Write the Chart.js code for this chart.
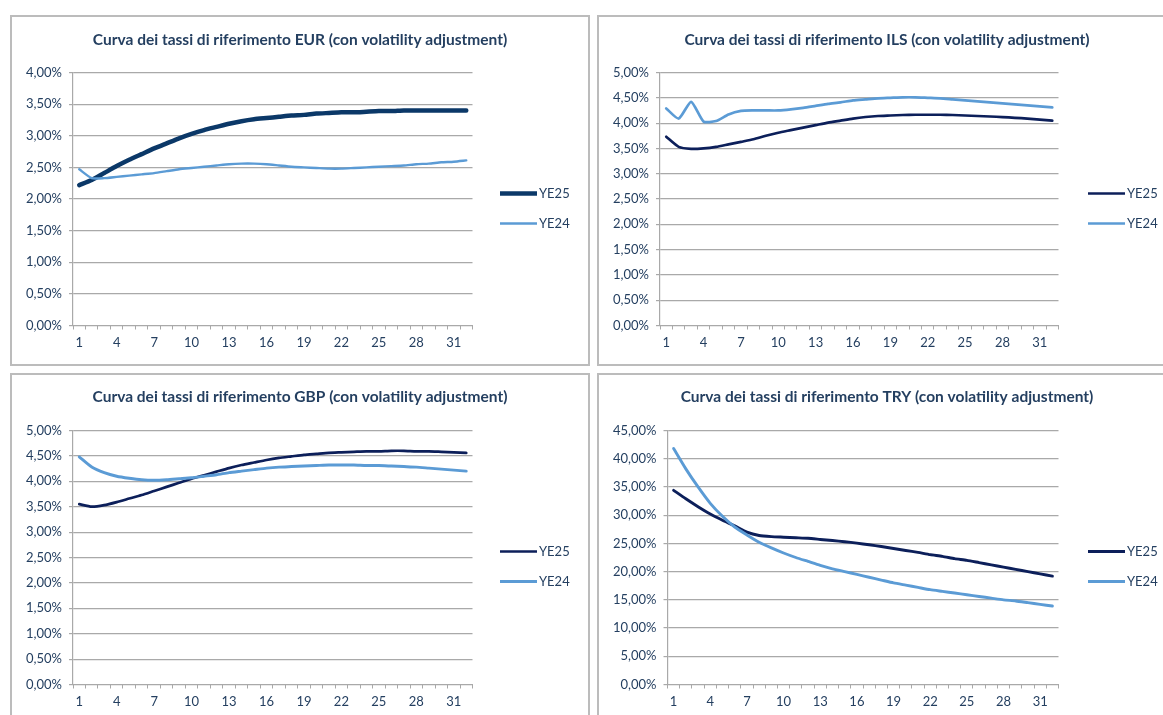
<!DOCTYPE html>
<html>
<head>
<meta charset="utf-8">
<script src="https://cdn.jsdelivr.net/npm/chart.js@4.4.1/dist/chart.umd.min.js"></script>
<style>
  html, body { margin: 0; padding: 0; background: #ffffff; width: 1163px; height: 715px; overflow: hidden; }
  .panel { position: absolute; box-sizing: border-box; border: 2px solid #bcbcbc; background: #ffffff; }
  .panel canvas { display: block; }
</style>
</head>
<body>
<script>
// Maturities (years) on the x axis
const maturities = ['1','2','3','4','5','6','7','8','9','10','11','12','13','14','15','16',
                    '17','18','19','20','21','22','23','24','25','26','27','28','29','30','31','32'];

// Reference rate curves in percent, with volatility adjustment
const eurYE25 = [2.22, 2.30, 2.41, 2.52, 2.62, 2.71, 2.80, 2.88, 2.96, 3.03, 3.09, 3.14, 3.19, 3.23, 3.26, 3.28,
                 3.30, 3.32, 3.33, 3.35, 3.36, 3.37, 3.37, 3.38, 3.39, 3.39, 3.40, 3.40, 3.40, 3.40, 3.40, 3.40];
const eurYE24 = [2.47, 2.33, 2.33, 2.35, 2.37, 2.39, 2.41, 2.44, 2.47, 2.49, 2.51, 2.53, 2.55, 2.56, 2.56, 2.55,
                 2.53, 2.51, 2.50, 2.49, 2.48, 2.48, 2.49, 2.50, 2.51, 2.52, 2.53, 2.55, 2.56, 2.58, 2.59, 2.61];

const ilsYE25 = [3.73, 3.53, 3.49, 3.50, 3.53, 3.58, 3.63, 3.68, 3.75, 3.81, 3.86, 3.91, 3.96, 4.01, 4.05, 4.09,
                 4.12, 4.14, 4.15, 4.16, 4.165, 4.165, 4.165, 4.16, 4.15, 4.14, 4.13, 4.12, 4.105, 4.09, 4.07, 4.05];
const ilsYE24 = [4.29, 4.09, 4.42, 4.03, 4.04, 4.17, 4.24, 4.25, 4.25, 4.25, 4.27, 4.30, 4.34, 4.38, 4.41, 4.45,
                 4.47, 4.49, 4.50, 4.51, 4.51, 4.50, 4.49, 4.47, 4.45, 4.43, 4.41, 4.39, 4.37, 4.35, 4.33, 4.31];

const gbpYE25 = [3.55, 3.50, 3.53, 3.59, 3.66, 3.73, 3.81, 3.89, 3.97, 4.05, 4.12, 4.19, 4.26, 4.32, 4.37, 4.42,
                 4.46, 4.49, 4.52, 4.54, 4.56, 4.57, 4.58, 4.59, 4.59, 4.60, 4.60, 4.59, 4.59, 4.58, 4.57, 4.56];
const gbpYE24 = [4.48, 4.28, 4.17, 4.10, 4.06, 4.03, 4.02, 4.03, 4.05, 4.07, 4.10, 4.13, 4.17, 4.20, 4.23, 4.26,
                 4.28, 4.29, 4.30, 4.31, 4.32, 4.32, 4.32, 4.31, 4.31, 4.30, 4.29, 4.28, 4.26, 4.24, 4.22, 4.20];

const tryYE25 = [34.4, 32.9, 31.5, 30.2, 29.1, 28.1, 27.0, 26.4, 26.2, 26.1, 26.0, 25.9, 25.7, 25.5, 25.3, 25.05,
                 24.75, 24.45, 24.1, 23.75, 23.4, 23.0, 22.7, 22.3, 22.0, 21.6, 21.2, 20.8, 20.4, 20.0, 19.6, 19.2];
const tryYE24 = [41.8, 38.2, 35.0, 32.1, 29.8, 27.9, 26.5, 25.2, 24.2, 23.3, 22.5, 21.8, 21.1, 20.5, 20.0, 19.5,
                 19.0, 18.5, 18.0, 17.6, 17.2, 16.8, 16.5, 16.2, 15.9, 15.6, 15.3, 15.0, 14.8, 14.5, 14.2, 13.9];

const seriesLabels = ['YE25', 'YE24'];

// Styling
const FONT = 'Lato, "Liberation Sans", sans-serif';
const TEXT = '#243f60';
const GRID = '#a9a9a9';
const LIGHT = '#5b9bd5';
const BORDER = 2;

const rateLabel = v => v.toFixed(2).replace('.', ',') + '%';

// Line key drawn at the right of the plot, one row per dataset
const seriesKey = {
  id: 'seriesKey',
  afterDraw(chart, args, opts) {
    const { ctx, chartArea } = chart;
    ctx.save();
    chart.data.datasets.forEach((ds, i) => {
      const y = Math.round(chartArea.top + opts.top + i * opts.step) + 0.5;
      const x0 = chartArea.right + opts.left;
      ctx.strokeStyle = ds.borderColor;
      ctx.lineWidth = ds.borderWidth;
      ctx.lineCap = 'butt';
      ctx.beginPath();
      ctx.moveTo(x0, y);
      ctx.lineTo(x0 + opts.length, y);
      ctx.stroke();
      ctx.fillStyle = TEXT;
      ctx.font = opts.font;
      ctx.textBaseline = 'middle';
      ctx.textAlign = 'left';
      ctx.fillText(ds.label, x0 + opts.length + 2, y + 0.5);
    });
    ctx.restore();
  }
};

function buildPanel(cfg) {
  const wrap = document.createElement('div');
  wrap.className = 'panel';
  Object.assign(wrap.style, {
    left: cfg.box.x + 'px', top: cfg.box.y + 'px',
    width: cfg.box.w + 'px', height: cfg.box.h + 'px'
  });
  const W = cfg.box.w - 2 * BORDER, H = cfg.box.h - 2 * BORDER;
  const ox = cfg.box.x + BORDER, oy = cfg.box.y + BORDER;
  const canvas = document.createElement('canvas');
  canvas.width = W; canvas.height = H;
  wrap.appendChild(canvas);
  document.body.appendChild(wrap);

  const titleSize = 15.5, titleLH = titleSize * 1.2;
  const titleTop = cfg.titleY - oy - titleLH / 2;
  const titleBottom = (cfg.plot.t - oy) - titleTop - titleLH;
  const tickFont = { family: FONT, size: 13 };
  const keySpace = W - (cfg.plot.r - ox);

  new Chart(canvas, {
    type: 'line',
    data: {
      labels: maturities,
      datasets: [
        { label: seriesLabels[0], data: cfg.ye25, borderColor: cfg.darkColor, backgroundColor: cfg.darkColor,
          borderWidth: cfg.darkWidth, pointRadius: 0, tension: 0.2, order: 1, borderJoinStyle: 'round', borderCapStyle: 'round' },
        { label: seriesLabels[1], data: cfg.ye24, borderColor: LIGHT, backgroundColor: LIGHT,
          borderWidth: cfg.lightWidth, pointRadius: 0, tension: 0.2, order: 0, borderJoinStyle: 'round', borderCapStyle: 'round' }
      ]
    },
    options: {
      responsive: false,
      animation: false,
      devicePixelRatio: 1,
      layout: { padding: 0 },
      plugins: {
        legend: { display: false },
        tooltip: { enabled: false },
        title: {
          display: true, text: cfg.title, color: TEXT,
          font: { family: FONT, size: titleSize, weight: 'bold', lineHeight: 1.2 },
          padding: { top: titleTop, bottom: titleBottom }
        },
        seriesKey: { left: cfg.keyLeft, top: 120.5, step: 30, length: 37, font: '13px ' + FONT }
      },
      scales: {
        x: {
          type: 'category',
          offset: true,
          grid: { offset: true, drawOnChartArea: false, drawTicks: true, tickLength: 4, color: GRID, lineWidth: 1 },
          border: { display: true, color: GRID, width: 1 },
          ticks: {
            autoSkip: false, maxRotation: 0, minRotation: 0, padding: 6, color: TEXT, font: tickFont,
            callback: function (v, i) { return i % 3 === 0 ? this.getLabelForValue(v) : ''; }
          },
          afterFit: s => { s.height = H - (cfg.plot.b - oy); }
        },
        y: {
          min: 0, max: cfg.yMax,
          grid: { color: GRID, lineWidth: 1.2, drawTicks: true, tickLength: 4 },
          border: { display: true, color: GRID, width: 1.2 },
          ticks: { stepSize: cfg.yStep, padding: 7, color: TEXT, font: tickFont, callback: v => rateLabel(v) },
          afterFit: s => { s.width = cfg.plot.l - ox; }
        },
        // empty right-hand band that holds the series key
        keyBand: {
          type: 'linear', position: 'right', display: true,
          grid: { display: false }, border: { display: false }, ticks: { display: false },
          afterFit: s => { s.width = keySpace; }
        }
      }
    },
    plugins: [seriesKey]
  });
}

buildPanel({
  box: { x: 10, y: 15, w: 580, h: 351 }, plot: { l: 73, r: 472.5, t: 72.5, b: 325.5 }, titleY: 40,
  title: 'Curva dei tassi di riferimento EUR (con volatility adjustment)',
  yMax: 4, yStep: 0.5, ye25: eurYE25, ye24: eurYE24,
  darkColor: '#0b3868', darkWidth: 4.5, lightWidth: 2.4, keyLeft: 27.5
});
buildPanel({
  box: { x: 597, y: 15, w: 580, h: 351 }, plot: { l: 660, r: 1058.5, t: 72.5, b: 325.5 }, titleY: 40,
  title: 'Curva dei tassi di riferimento ILS (con volatility adjustment)',
  yMax: 5, yStep: 0.5, ye25: ilsYE25, ye24: ilsYE24,
  darkColor: '#0c1f5a', darkWidth: 2.7, lightWidth: 2.7, keyLeft: 29.5
});
buildPanel({
  box: { x: 10, y: 373, w: 580, h: 351 }, plot: { l: 73, r: 472.5, t: 430.5, b: 684.5 }, titleY: 397,
  title: 'Curva dei tassi di riferimento GBP (con volatility adjustment)',
  yMax: 5, yStep: 0.5, ye25: gbpYE25, ye24: gbpYE24,
  darkColor: '#0c1f5a', darkWidth: 2.7, lightWidth: 2.9, keyLeft: 27.5
});
buildPanel({
  box: { x: 597, y: 373, w: 580, h: 351 }, plot: { l: 667.5, r: 1058.5, t: 430.5, b: 684.5 }, titleY: 397,
  title: 'Curva dei tassi di riferimento TRY (con volatility adjustment)',
  yMax: 45, yStep: 5, ye25: tryYE25, ye24: tryYE24,
  darkColor: '#0c1f5a', darkWidth: 2.9, lightWidth: 2.9, keyLeft: 29.5
});
</script>
</body>
</html>
